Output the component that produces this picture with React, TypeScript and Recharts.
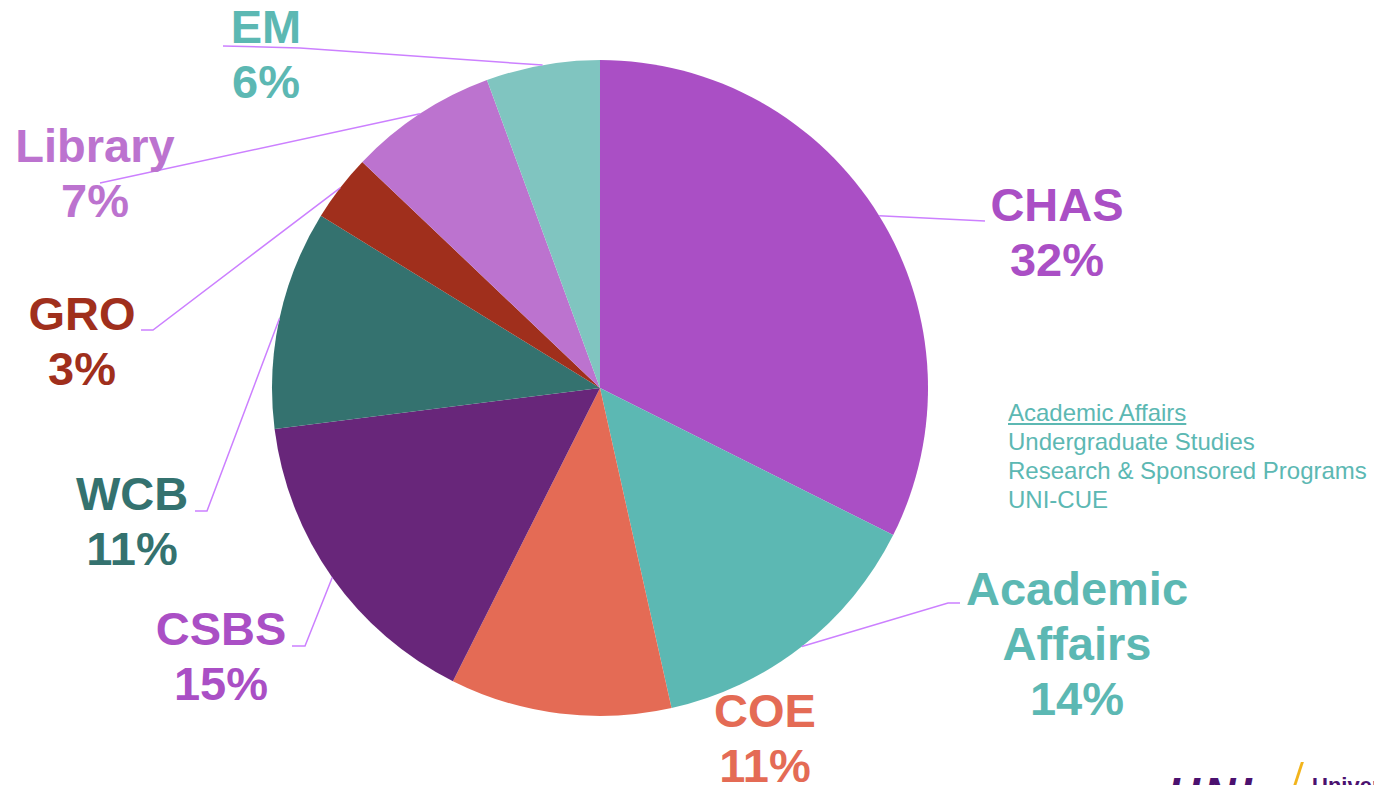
import { PieChart, Pie, Cell } from "recharts";

const units = ["CHAS", "Academic Affairs", "COE", "CSBS", "WCB", "GRO", "Library", "EM"];
const shares = [32.4, 14.1, 10.9, 15.6, 10.8, 3.3, 7.3, 5.6];
const shownPct = ["32%", "14%", "11%", "15%", "11%", "3%", "7%", "6%"];
const sliceColors = ["#aa4fc5", "#5cb8b3", "#e46b55", "#68267a", "#34726f", "#a02f1c", "#bc73cf", "#80c5c0"];
const labelColors = ["#aa4fc5", "#5cb8b3", "#e46b55", "#aa4fc5", "#34726f", "#a02f1c", "#bc73cf", "#5cb8b3"];
const affairsUnits = ["Academic Affairs", "Undergraduate Studies", "Research & Sponsored Programs", "UNI-CUE"];

const data = units.map((name, i) => ({ name, value: shares[i] }));

// label placement, offsets from the pie centre: text centre/baseline, elbow, tail end (null = no line)
const layout = [
  { tx: 457, ty: -167, line: [[385, -167], [385, -167]] },
  { tx: 477, ty: 217, line: [[348, 215], [360, 215]] },
  { tx: 165, ty: 339, line: null },
  { tx: -379, ty: 257, line: [[-295, 258], [-308, 258]] },
  { tx: -468, ty: 122, line: [[-393, 123], [-405, 123]] },
  { tx: -518, ty: -58, line: [[-447, -58], [-459, -58]] },
  { tx: -505, ty: -226, line: [[-500, -205], [-500, -205]] },
  { tx: -334, ty: -345, line: [[-300, -340], [-377, -342]] },
];

const RAD = Math.PI / 180;
const FONT = '"Liberation Sans", Arial, sans-serif';

function renderLabel(props: any) {
  const { cx, cy, midAngle, outerRadius, index } = props;
  const l = layout[index];
  const sx = cx + outerRadius * Math.cos(-midAngle * RAD);
  const sy = cy + outerRadius * Math.sin(-midAngle * RAD);
  const lines = [...units[index].split(" "), shownPct[index]];
  return (
    <g key={`lbl-${index}`}>
      {l.line && (
        <polyline
          points={`${sx},${sy} ${cx + l.line[0][0]},${cy + l.line[0][1]} ${cx + l.line[1][0]},${cy + l.line[1][1]}`}
          fill="none"
          stroke="#cc80ff"
          strokeWidth={1.5}
        />
      )}
      <text
        x={cx + l.tx}
        y={cy + l.ty}
        textAnchor="middle"
        fill={labelColors[index]}
        fontFamily={FONT}
        fontWeight="bold"
        fontSize={47}
      >
        {lines.map((t, k) => (
          <tspan key={k} x={cx + l.tx} dy={k === 0 ? 0 : 55}>
            {t}
          </tspan>
        ))}
      </text>
    </g>
  );
}

export default function App() {
  return (
    <div style={{ position: "absolute", left: 0, top: 0, width: 1374, height: 785, overflow: "hidden", background: "#fff" }}>
      <PieChart width={1374} height={785} margin={{ top: 0, right: 0, bottom: 0, left: 0 }}>
        <Pie
          data={data}
          dataKey="value"
          nameKey="name"
          cx={600}
          cy={388}
          outerRadius={328}
          startAngle={90}
          endAngle={-270}
          stroke="none"
          labelLine={false}
          label={renderLabel}
          isAnimationActive={false}
        >
          {data.map((d, i) => (
            <Cell key={`cell-${i}`} fill={sliceColors[i]} />
          ))}
        </Pie>
      </PieChart>

      <div
        style={{
          position: "absolute",
          left: 1008,
          top: 398,
          fontFamily: FONT,
          fontSize: 24,
          lineHeight: "29px",
          color: "#5cb8b3",
        }}
      >
        {affairsUnits.map((t, i) => (
          <div key={t} style={{ textDecoration: i === 0 ? "underline" : "none" }}>
            {t}
          </div>
        ))}
      </div>

      <div
        style={{
          position: "absolute",
          left: 1168,
          top: 772,
          fontFamily: FONT,
          fontSize: 44,
          fontWeight: 900,
          fontStyle: "italic",
          color: "#4b116f",
          letterSpacing: 4,
          lineHeight: "44px",
        }}
      >
        UNI
      </div>
      <div style={{ position: "absolute", left: 1296, top: 762, width: 3, height: 30, background: "#f2b41c", transform: "skewX(-18deg)" }} />
      <div
        style={{
          position: "absolute",
          left: 1312,
          top: 774,
          fontFamily: FONT,
          fontSize: 22,
          fontWeight: "bold",
          color: "#4b116f",
          lineHeight: "24px",
        }}
      >
        University
      </div>
    </div>
  );
}
